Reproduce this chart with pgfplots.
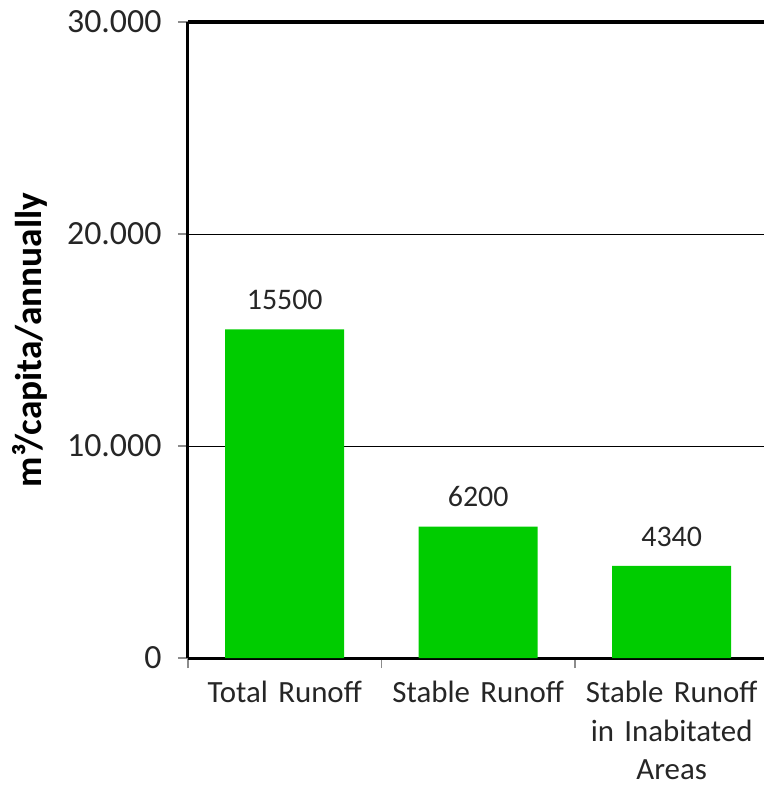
\documentclass[border=0pt]{standalone}
\usepackage{fontspec}
\setmainfont{Carlito}
\usepackage{pgfplots}
\pgfplotsset{compat=1.18}
\definecolor{bargreen}{RGB}{0,204,0}
\begin{document}
\begin{tikzpicture}
\begin{axis}[
  name=ax,
  scale only axis,
  width=576bp, height=636bp,
  xmin=-0.5, xmax=2.477,
  ymin=0, ymax=30000,
  clip=false,
  axis x line*=bottom, axis y line*=left,
  axis line style={line width=3bp, black, -},
  /pgf/number format/assume math mode=true,
  scaled y ticks=false,
  ytick={0,10000,20000,30000},
  y tick label style={font=\fontsize{34}{40}\selectfont, text=black!85, /pgf/number format/1000 sep={.}, xshift=-13bp},
  xtick={-0.5,0.5,1.5,2.5},
  xticklabels={},
  extra x ticks={0,1,2},
  extra x tick labels={Total Runoff, Stable Runoff, Stable Runoff\\in Inabitated\\Areas},
  extra x tick style={tick style={draw=none}},
  x tick label style={font=\fontsize{31}{38.5}\selectfont, text=black!85, align=center, text width=192bp, anchor=north, yshift=-12bp, inner sep=1bp},
  tick align=outside,
  major tick length=10bp,
  tick style={black!45, line width=1.2bp},
  ymajorgrids,
  major grid style={black, line width=0.8bp},
  ylabel={m³/capita/annually},
  y label style={font=\fontsize{37.5}{44}\selectfont\bfseries, at={(axis description cs:-0.2743,0.5)}, anchor=center, rotate=0},
  nodes near coords,
  point meta=explicit symbolic,
  every node near coord/.append style={font=\fontsize{30}{36}\selectfont, text=black!85, anchor=south, yshift=16bp},
]
\addplot[ybar, bar width=119bp, fill=bargreen, draw=none] table[meta=label] {
x y label
0 15500 15500
1 6200 6200
2 4340 4340
};
\draw[line width=4.5bp, black] (rel axis cs:0,1) -- (rel axis cs:1,1);
\end{axis}
\pgfresetboundingbox
\path[use as bounding box] (ax.south west) ++(-188bp,-133bp) rectangle ++(764bp,791bp);
\end{tikzpicture}
\end{document}
